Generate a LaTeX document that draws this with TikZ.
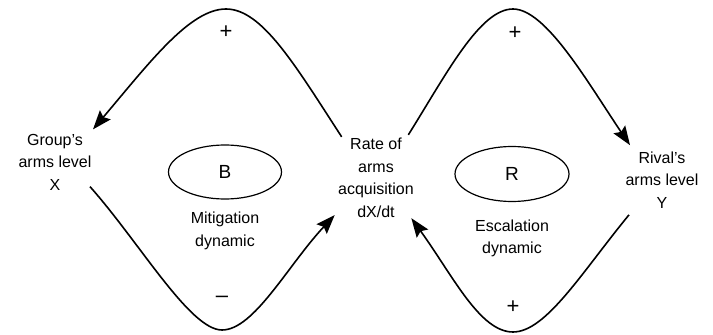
\documentclass[tikz,border=0pt]{standalone}
\usepackage{fontspec}
\setmainfont{Liberation Sans}
\usetikzlibrary{arrows.meta,positioning,shapes.geometric}

\tikzset{
  var/.style={align=center, font=\fontsize{16}{22.5}\selectfont},
  loopname/.style={draw, ellipse, line width=1.2pt, inner sep=0pt,
    font=\fontsize{19}{20}\selectfont},
  link/.style={line width=1.6pt, -{Stealth[length=19pt,width=14pt,inset=3pt]}},
  sign/.style={font=\fontsize{22}{22}\selectfont},
}

\begin{document}
\begin{tikzpicture}[x=1pt,y=1pt]
\useasboundingbox (0,0) rectangle (713,335);

% 変数
\node[var] (group) at (55,173) {Group's\\arms level\\X};
\node[var] (rate) at (376,157) {Rate of\\arms\\acquisition\\dX/dt};
\node[var] (rival) at (662,155) {Rival's\\arms level\\Y};

% ループ
\node[loopname, minimum width=113pt, minimum height=54pt] (bLoop) at (225,163) {B};
\node[var, below=9pt of bLoop] (bName) {Mitigation\\dynamic};
\node[loopname, minimum width=114pt, minimum height=55pt] (rLoop) at (512,161) {R};
\node[var, below=14pt of rLoop] (rName) {Escalation\\dynamic};

% 矢印
\draw[link] ([shift={(7,-2)}]rate.north west)
  .. controls (295,270) and (262,326) .. (226,326)
  .. controls (190,326) and (150,273) .. ([shift={(-2,1)}]group.north east);
\draw[link] ([shift={(-5,7)}]group.south east)
  .. controls (140,92) and (190,5) .. (222,5)
  .. controls (254,5) and (288,70) .. ([shift={(0,6)}]rate.south west);
\draw[link] ([shift={(-9,0)}]rate.north east)
  .. controls (447,262) and (480,326) .. (513,326)
  .. controls (546,326) and (588,252) .. ([shift={(8,3)}]rival.north west);
\draw[link] ([shift={(7,-3)}]rival.south west)
  .. controls (582,63) and (546,3) .. (513,3)
  .. controls (480,3) and (453,59) .. ([shift={(-6,3)}]rate.south east);

% 符号
\node[sign] (sA) at (226,303) {+};
\node[sign] (sB) at (222,36) {--};
\node[sign] (sC) at (515,302) {+};
\node[sign] (sD) at (513,28) {+};
\end{tikzpicture}
\end{document}
